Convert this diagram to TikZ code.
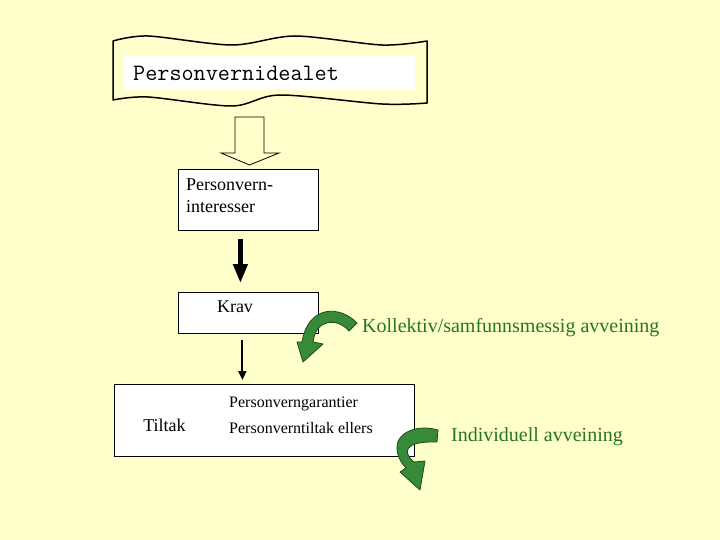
\documentclass[tikz,border=0pt]{standalone}
\usepackage{fontspec}
\setmainfont{Liberation Serif}
\usepackage{tikz}
\usetikzlibrary{arrows.meta,positioning}
\definecolor{slidebg}{HTML}{FFFFCC}
\definecolor{weighgreen}{HTML}{378A37}
\definecolor{weighdark}{HTML}{1E4A1E}
\definecolor{weightext}{HTML}{267526}
\tikzset{
  box/.style={
    draw=black,
    fill=white,
    line width=0.8pt,
    anchor=north west,
    inner sep=0pt
  },
  boxtext/.style={
    font=\fontsize{18}{22}\selectfont,
    inner sep=0pt,
    anchor=west,
    align=left
  },
  listtext/.style={
    font=\fontsize{16}{20}\selectfont,
    inner sep=0pt,
    anchor=west
  },
  weighlabel/.style={
    font=\fontsize{20}{24}\selectfont,
    text=weightext,
    inner sep=0pt,
    anchor=west
  },
  bendarrow/.style={
    fill=weighgreen,
    draw=weighdark,
    line width=0.8pt,
    line join=round
  },
  heavyarrow/.style={
    -{Triangle[length=19pt,width=14pt]},
    line width=4.5pt
  },
  thinarrow/.style={
    -{Triangle[length=9pt,width=8pt]},
    line width=2pt
  }
}

\begin{document}
\begin{tikzpicture}[x=1pt,y=-1pt]
  \fill[slidebg] (0,0) rectangle (720,540);
  \useasboundingbox (0,0) rectangle (720,540);

  % banner with the ideal
  \draw[line width=1.5pt, line join=round]
    plot[smooth] coordinates {(113,41) (148,36) (232,45) (295,36) (382,45) (427,41)}
    -- plot[smooth] coordinates {(427,103) (382,104) (280,95) (232,106) (148,97) (113,100)}
    -- cycle;
  \node[fill=white, anchor=west, inner xsep=9pt, inner ysep=0pt, text width=273pt,
        minimum height=34pt,
        font=\ttfamily\fontsize{23.5}{24}\selectfont\addfontfeatures{FakeBold=1.2}]
        (ideal) at (124,73) {Personvernidealet};

  % hollow arrow
  \draw[line width=0.8pt, line join=miter]
    (235,117) -- (264,117) -- (264,153) -- (279,153) -- (249.5,165) -- (221,153) -- (235,153) -- cycle;

  \node[box, minimum width=140pt, minimum height=61pt] (interesser) at (178,169) {};
  \node[boxtext] (interessertext) at (186,196) {Personvern-\\interesser};

  \node[box, minimum width=140pt, minimum height=41pt] (krav) at (178,292) {};
  \node[boxtext, anchor=center] (kravtext) at (235,307) {Krav};

  \node[box, minimum width=300pt, minimum height=72pt] (tiltak) at (114,384) {};
  \node[boxtext, anchor=center] (tiltaktext) at (164.5,425) {Tiltak};
  \node[listtext] (garantier) at (229,404) {Personverngarantier};
  \node[listtext] (ellers) at (229,428) {Personverntiltak ellers};

  \draw[heavyarrow, shorten <=8pt, shorten >=9pt] ([xshift=-8pt]interesser.south) -- ([xshift=-8pt]krav.north);
  \draw[thinarrow, shorten <=6pt, shorten >=4pt] ([xshift=-6pt]krav.south) -- ([xshift=-6pt]krav.south |- tiltak.north);

  % curved arrows
  \draw[bendarrow] (357,323) .. controls (340,305) and (308,305) .. (302,342)
    -- (297,342) -- (303,362) -- (323,344) -- (313,342)
    .. controls (316,318) and (338,318) .. (349,331) -- cycle;
  \node[weighlabel] (kollektiv) at (362,328) {Kollektiv/samfunnsmessig avveining};

  \draw[bendarrow] (438,430) .. controls (418,424) and (395,432) .. (397,450)
    .. controls (398,458) and (402,464) .. (406,468)
    -- (400,472) -- (420,490) -- (425,461) -- (414,462)
    .. controls (402,452) and (404,441) .. (437,442) -- cycle;
  \node[weighlabel] (individuell) at (451,437) {Individuell avveining};
\end{tikzpicture}
\end{document}
